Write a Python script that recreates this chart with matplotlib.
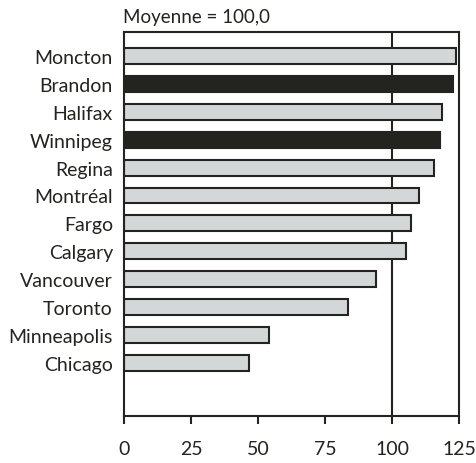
import matplotlib
matplotlib.use("Agg")
import matplotlib.pyplot as plt

plt.rcParams['font.family'] = ['Lato', 'DejaVu Sans']

cities = ["Moncton", "Brandon", "Halifax", "Winnipeg", "Regina", "Montréal",
          "Fargo", "Calgary", "Vancouver", "Toronto", "Minneapolis", "Chicago"]
values = [123.9, 122.6, 118.8, 117.9, 115.8, 110.2, 107.2, 105.2, 94.0, 83.7, 54.2, 46.6]
highlight = ["Brandon", "Winnipeg"]
xticks = [0, 25, 50, 75, 100, 125]
title = "Moyenne = 100,0"

ink = "#232320"
light = "#d4d7d7"

fig = plt.figure(figsize=(4.76, 4.64), dpi=100)
ax = fig.add_axes([0.2605, 0.102, 0.7038, 0.827])

ypos = list(range(len(cities) - 1, -1, -1))
colors = [ink if c in highlight else light for c in cities]

ax.axvline(100, color=ink, linewidth=1.5, zorder=1)
ax.barh(ypos, values, height=0.57, color=colors, edgecolor=ink, linewidth=1.5, zorder=2)

ax.set_xlim(0, 125)
ax.set_ylim(-1.89, 11.86)
ax.set_xticks(xticks)
ax.set_xticklabels([str(t) for t in xticks])
ax.set_yticks(ypos)
ax.set_yticklabels(cities)

for side in ["left", "right", "top", "bottom"]:
    ax.spines[side].set_linewidth(1.5)
    ax.spines[side].set_color(ink)

ax.tick_params(axis="x", length=5.8, width=1.5, color=ink, pad=12, labelsize=14, labelcolor=ink)
ax.tick_params(axis="y", length=0, pad=8, labelsize=14, labelcolor=ink)

fig.text(0.258, 0.944, title, fontsize=13.5, color=ink, ha="left", va="bottom")

fig.savefig("out.png", dpi=100)
